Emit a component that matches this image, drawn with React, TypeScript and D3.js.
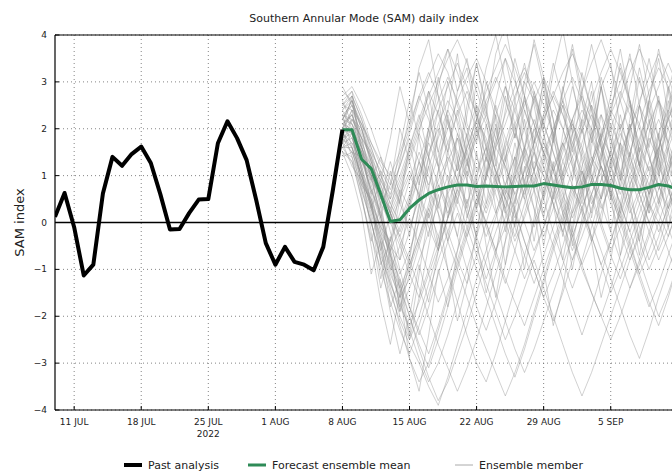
import * as d3 from "d3";

const title = "Southern Annular Mode (SAM) daily index";
const pastStart = Date.UTC(2022, 6, 9);
const forecastStart = Date.UTC(2022, 7, 8);

// past analysis, daily from 9 JUL
const pastValues = [
  0.12, 0.63, -0.1, -1.13, -0.9, 0.62, 1.4, 1.21, 1.46, 1.62, 1.27, 0.6, -0.15, -0.14, 0.2, 0.49,
  0.5, 1.69, 2.16, 1.8, 1.33, 0.48, -0.44, -0.9, -0.52, -0.84, -0.9, -1.02, -0.52, 0.69, 1.98,
];

// ensemble mean, daily from 8 AUG
const meanValues = [
  1.98, 1.98, 1.35, 1.15, 0.6, 0.02, 0.06, 0.3, 0.48, 0.62, 0.7, 0.76, 0.8, 0.8, 0.77, 0.78, 0.77,
  0.76, 0.77, 0.78, 0.78, 0.83, 0.8, 0.77, 0.74, 0.76, 0.81, 0.81, 0.79, 0.73, 0.7, 0.7, 0.75, 0.81,
  0.78, 0.7,
];

// ensemble members, daily from 8 AUG
const members = [
  [2.0, 2.3, 1.6, 0.9, 0.2, -0.5, -0.8, -0.2, 0.6, 1.4, 2.1, 2.6, 2.2, 1.5, 0.8, 0.3, 0.9, 1.7, 2.4, 3.0, 2.6, 1.9, 1.1, 0.4, -0.3, -0.9, -0.4, 0.5, 1.3, 2.0, 2.5, 2.1, 1.4, 0.7, 1.2, 1.8],
  [1.8, 1.6, 1.0, 0.3, -0.4, -1.1, -1.6, -1.2, -0.5, 0.2, 0.8, 0.4, -0.3, -1.0, -1.8, -2.3, -1.7, -0.9, 0.0, 0.7, 1.3, 1.0, 0.4, -0.2, 0.5, 1.2, 1.9, 2.3, 1.8, 1.1, 0.5, -0.1, -0.8, -0.3, 0.4, 1.0],
  [2.4, 2.7, 2.2, 1.6, 1.0, 0.6, 1.2, 1.9, 2.6, 3.1, 3.6, 3.2, 2.5, 1.8, 1.1, 1.6, 2.3, 2.9, 2.4, 1.6, 0.9, 0.2, 0.8, 1.5, 2.2, 2.8, 3.4, 3.9, 3.3, 2.6, 1.9, 1.2, 0.6, 1.1, 1.7, 2.3],
  [1.6, 1.3, 0.5, -0.3, -1.0, -1.7, -2.3, -2.8, -2.2, -1.5, -0.8, -0.2, 0.5, 1.1, 0.6, -0.1, -0.7, -1.3, -0.6, 0.2, 0.9, 1.5, 1.1, 0.5, -0.2, -0.9, -1.5, -2.0, -1.4, -0.7, 0.0, 0.6, 1.2, 0.8, 0.2, -0.4],
  [2.1, 2.0, 1.5, 1.1, 0.4, 0.0, 0.5, 1.0, 0.6, -0.1, -0.6, 0.1, 0.9, 1.6, 2.2, 1.8, 1.1, 0.5, 0.1, 0.7, 1.5, 2.2, 2.7, 2.3, 1.6, 1.0, 0.4, 0.9, 1.5, 1.0, 0.3, -0.4, -1.0, -0.5, 0.2, 0.8],
  [1.9, 2.2, 1.8, 1.0, 0.1, -0.7, -1.4, -2.0, -2.6, -3.1, -2.5, -1.8, -1.0, -0.3, 0.4, 1.0, 1.6, 1.2, 0.6, 0.0, -0.6, -0.1, 0.6, 1.3, 1.9, 2.4, 2.0, 1.4, 0.8, 0.2, -0.4, -1.1, -1.7, -2.2, -1.6, -0.9],
  [2.6, 2.8, 2.3, 1.7, 1.2, 0.8, 1.4, 2.0, 2.7, 2.2, 1.5, 0.9, 0.3, -0.3, 0.3, 1.0, 1.7, 2.3, 2.9, 3.3, 2.8, 2.1, 1.5, 0.8, 0.2, 0.7, 1.3, 1.9, 2.5, 3.0, 3.5, 3.0, 2.4, 1.8, 1.2, 0.7],
  [1.5, 1.4, 0.8, 0.0, -0.8, -1.5, -2.1, -2.6, -3.0, -3.5, -3.9, -3.3, -2.6, -1.9, -1.2, -0.6, 0.1, 0.7, 0.3, -0.4, -1.0, -1.6, -1.1, -0.5, 0.2, 0.9, 1.4, 1.0, 0.4, -0.2, -0.8, -0.3, 0.4, 1.0, 1.6, 2.1],
  [2.2, 2.5, 2.0, 1.3, 0.7, 0.2, -0.3, 0.3, 1.0, 1.7, 1.2, 0.6, 1.2, 1.9, 2.5, 2.1, 1.4, 0.8, 0.2, -0.4, -1.0, -1.6, -2.1, -1.5, -0.8, -0.1, 0.6, 1.2, 0.7, 0.1, 0.8, 1.5, 2.1, 2.6, 2.2, 1.6],
  [1.7, 1.8, 1.2, 0.5, -0.2, -0.6, -0.1, 0.5, 1.1, 1.8, 2.4, 2.9, 3.4, 2.9, 2.3, 1.6, 0.9, 0.3, 0.9, 1.6, 1.1, 0.5, -0.2, -0.8, -1.4, -0.8, -0.1, 0.6, 1.3, 1.9, 1.4, 0.8, 0.2, 0.7, 1.3, 1.9],
  [2.3, 2.1, 1.4, 0.7, 0.0, -0.8, -1.5, -1.0, -0.4, 0.3, -0.3, -1.0, -1.7, -2.4, -3.0, -3.4, -2.8, -2.1, -1.4, -0.7, 0.0, 0.6, 1.2, 1.7, 1.2, 0.6, 0.0, -0.6, -1.2, -1.8, -2.4, -2.9, -2.3, -1.6, -1.0, -0.4],
  [1.9, 1.7, 1.3, 0.9, 0.6, 0.3, 0.8, 1.4, 2.0, 2.5, 3.0, 3.5, 3.9, 3.4, 2.8, 2.2, 1.6, 2.1, 2.7, 3.2, 2.7, 2.1, 1.5, 0.9, 1.4, 2.0, 2.5, 2.0, 1.4, 0.9, 1.5, 2.1, 2.8, 3.3, 2.9, 2.3],
  [2.0, 1.9, 1.1, 0.4, -0.3, -1.0, -0.5, 0.1, -0.5, -1.1, -1.7, -1.2, -0.6, 0.1, 0.8, 1.4, 0.9, 0.3, -0.3, 0.4, 1.1, 1.8, 2.4, 2.0, 1.3, 0.7, 1.2, 1.8, 2.4, 2.0, 1.3, 0.6, 0.0, -0.6, -0.1, 0.5],
  [2.5, 2.4, 1.9, 1.3, 0.6, 0.0, -0.5, -1.1, -1.6, -1.0, -0.3, 0.4, 1.0, 1.5, 2.0, 2.6, 3.1, 2.6, 2.0, 1.3, 0.7, 0.1, -0.5, -1.2, -1.8, -2.4, -1.8, -1.1, -0.4, 0.3, 1.0, 1.6, 1.1, 0.5, -0.1, -0.7],
  [1.4, 1.5, 1.0, 0.4, -0.1, -0.4, 0.2, 0.9, 1.5, 1.0, 0.4, -0.2, -0.8, -1.3, -0.7, 0.0, 0.7, 1.3, 1.9, 1.4, 0.8, 1.4, 2.0, 2.6, 3.1, 2.6, 1.9, 1.2, 0.6, 0.0, 0.6, 1.2, 1.8, 1.3, 0.7, 0.1],
  [2.2, 2.6, 2.1, 1.4, 0.6, -0.2, -1.0, -1.8, -2.4, -1.8, -1.1, -0.4, 0.2, -0.4, -1.0, -1.6, -2.2, -2.8, -3.3, -2.7, -2.0, -1.3, -0.6, 0.0, 0.6, 1.1, 0.6, 0.0, -0.6, -0.1, 0.5, 1.1, 1.7, 2.2, 1.7, 1.1],
  [1.8, 2.0, 1.6, 1.2, 0.9, 0.5, 1.0, 1.6, 2.2, 2.8, 2.3, 1.7, 1.1, 1.6, 2.2, 2.8, 3.3, 3.8, 3.3, 2.7, 2.1, 1.5, 2.0, 2.6, 2.1, 1.5, 0.9, 0.3, 0.8, 1.4, 2.0, 2.6, 3.1, 3.6, 3.1, 2.5],
  [2.0, 1.8, 1.2, 0.4, -0.4, -1.2, -2.0, -2.5, -2.0, -1.3, -0.6, 0.1, 0.7, 0.2, -0.5, -1.2, -0.6, 0.1, 0.8, 1.4, 2.0, 1.5, 0.9, 0.3, -0.3, 0.3, 0.9, 1.5, 2.1, 1.6, 1.0, 0.4, -0.2, -0.8, -0.3, 0.3],
  [2.7, 2.9, 2.5, 2.0, 1.4, 0.9, 0.4, -0.1, 0.5, 1.2, 1.8, 2.4, 1.9, 1.3, 0.6, 0.0, -0.6, -0.1, 0.5, 1.1, 1.7, 2.2, 2.7, 3.2, 3.6, 3.1, 2.4, 1.7, 1.0, 0.4, -0.2, 0.4, 1.0, 1.6, 2.2, 2.8],
  [1.6, 1.7, 1.1, 0.3, -0.5, -1.3, -1.9, -1.4, -0.8, -0.2, 0.4, 1.0, 0.5, -0.1, -0.7, -1.3, -1.9, -2.5, -2.0, -1.4, -0.8, -1.4, -2.0, -2.6, -3.2, -3.7, -3.2, -2.6, -2.0, -1.4, -0.8, -0.2, 0.4, 0.0, -0.6, -1.2],
  [2.1, 2.3, 1.7, 1.2, 0.8, 0.3, -0.2, 0.4, 1.0, 1.5, 2.0, 1.5, 0.9, 0.4, 1.0, 1.6, 1.1, 0.5, 1.0, 1.6, 2.2, 1.7, 1.1, 1.6, 2.1, 1.6, 1.0, 0.5, 1.1, 1.7, 1.2, 0.6, 0.0, 0.5, 1.1, 1.6],
  [1.9, 2.0, 1.4, 0.6, -0.2, -1.0, -1.7, -2.3, -2.9, -3.4, -3.0, -2.4, -1.7, -1.0, -0.3, 0.4, 1.0, 1.6, 2.1, 2.6, 2.1, 1.5, 0.8, 0.2, -0.4, -1.0, -1.5, -2.0, -2.5, -2.0, -1.4, -0.8, -0.2, 0.4, 1.0, 0.5],
  [2.3, 2.2, 1.8, 1.5, 1.1, 0.7, 1.2, 1.8, 1.3, 0.8, 1.4, 2.0, 2.6, 3.1, 3.5, 3.0, 2.4, 1.8, 1.2, 0.6, 1.1, 1.7, 1.2, 0.6, 0.1, 0.6, 1.2, 1.8, 2.3, 2.8, 2.3, 1.7, 1.1, 1.6, 2.2, 2.7],
  [1.7, 1.5, 0.9, 0.2, -0.6, -1.4, -2.2, -2.9, -3.4, -3.0, -2.3, -1.6, -0.9, -0.2, 0.5, 1.1, 0.6, 0.0, -0.6, -1.2, -0.7, -0.1, 0.5, 1.1, 1.7, 2.2, 1.8, 1.2, 0.6, 0.0, -0.6, -1.2, -1.8, -1.3, -0.7, -0.1],
  [2.4, 2.6, 2.0, 1.4, 0.9, 0.4, 0.0, 0.6, 1.3, 2.0, 2.6, 3.1, 2.6, 2.0, 1.4, 0.8, 0.2, 0.8, 1.4, 0.9, 0.3, -0.3, 0.3, 1.0, 1.6, 2.1, 2.6, 3.2, 3.7, 3.2, 2.6, 2.0, 1.4, 0.8, 0.3, 0.8],
  [1.8, 1.9, 1.3, 0.7, 0.1, -0.5, -1.1, -0.6, 0.0, 0.7, 0.2, -0.4, -1.0, -1.6, -2.2, -2.7, -3.2, -3.7, -3.2, -2.6, -1.9, -1.2, -0.5, 0.1, 0.7, 0.2, -0.4, 0.2, 0.9, 1.5, 2.0, 2.5, 2.0, 1.4, 0.8, 0.2],
  [2.0, 2.4, 2.1, 1.6, 1.0, 0.4, 0.9, 1.5, 2.1, 2.7, 3.2, 3.7, 3.2, 2.6, 2.0, 1.4, 0.8, 0.2, -0.4, 0.1, 0.7, 1.3, 1.9, 2.5, 2.0, 1.4, 0.8, 1.4, 2.0, 2.6, 3.2, 3.7, 3.2, 2.6, 2.0, 1.5],
  [1.6, 1.6, 1.0, 0.5, -0.1, -0.7, -1.2, -1.8, -2.3, -2.8, -2.2, -1.5, -0.8, -0.1, 0.5, 0.0, -0.6, -1.2, -1.7, -2.2, -1.6, -1.0, -0.4, 0.2, 0.8, 0.3, -0.3, -0.9, -0.4, 0.2, 0.8, 1.3, 0.8, 0.2, -0.3, 0.3],
  [2.2, 2.1, 1.6, 1.0, 0.5, 0.1, 0.6, 1.1, 0.6, 0.1, 0.7, 1.3, 1.8, 1.3, 0.7, 0.2, 0.8, 1.4, 2.0, 2.5, 3.0, 2.5, 1.9, 1.3, 0.8, 0.3, -0.3, -0.9, -1.5, -1.0, -0.4, 0.2, 0.8, 1.4, 2.0, 2.5],
  [2.5, 2.7, 2.2, 1.5, 0.8, 0.2, -0.4, -0.9, -0.3, 0.4, 1.1, 1.7, 2.3, 2.8, 2.3, 1.7, 1.1, 0.5, -0.1, -0.7, -1.3, -0.7, -0.1, 0.5, 1.1, 1.7, 2.3, 1.8, 1.2, 0.6, 1.2, 1.8, 2.4, 2.9, 3.4, 2.9],
  [1.5, 1.3, 0.7, 0.0, -0.7, -1.3, -1.8, -2.2, -1.7, -1.1, -0.5, 0.1, 0.6, 1.2, 1.8, 2.3, 1.8, 1.2, 0.6, 1.1, 1.7, 2.3, 2.8, 2.3, 1.7, 1.1, 0.5, -0.1, -0.7, -1.2, -0.6, 0.0, 0.6, 1.2, 0.7, 0.1],
  [2.1, 1.9, 1.5, 1.0, 0.6, 0.2, -0.3, -0.8, -1.4, -2.0, -2.6, -3.1, -3.6, -3.1, -2.5, -1.8, -1.1, -0.4, 0.3, 0.9, 1.5, 1.0, 0.4, -0.2, -0.8, -0.3, 0.3, 0.9, 1.5, 2.1, 1.6, 1.0, 0.4, -0.2, 0.3, 0.9],
  [2.8, 2.6, 2.0, 1.3, 0.7, 0.2, 0.7, 1.3, 1.9, 1.4, 0.8, 0.2, 0.7, 1.3, 1.9, 2.5, 3.0, 3.5, 3.0, 2.4, 1.8, 1.2, 0.6, 0.0, -0.6, 0.0, 0.6, 1.2, 0.7, 0.1, -0.5, -1.1, -0.6, 0.0, 0.6, 1.2],
  [1.7, 2.0, 1.5, 0.8, 0.1, -0.6, -1.3, -2.0, -2.7, -3.3, -3.8, -3.4, -2.8, -2.2, -1.5, -0.8, -0.2, 0.4, 1.0, 0.5, -0.1, 0.5, 1.1, 1.7, 2.2, 2.7, 2.2, 1.6, 1.0, 0.4, -0.2, -0.8, -1.4, -2.0, -1.5, -0.9],
  [2.3, 2.5, 2.1, 1.7, 1.3, 1.0, 1.5, 2.1, 2.7, 3.2, 2.7, 2.1, 1.5, 0.9, 0.3, -0.3, 0.2, 0.8, 1.4, 2.0, 2.6, 3.1, 2.6, 2.0, 1.4, 0.8, 1.3, 1.9, 1.4, 0.8, 0.2, 0.7, 1.3, 1.9, 2.4, 2.0],
  [1.9, 1.6, 1.0, 0.3, -0.3, -0.9, -1.4, -0.9, -0.3, 0.3, 0.9, 1.4, 0.9, 0.3, -0.3, -0.9, -1.5, -2.1, -2.7, -3.2, -2.7, -2.1, -1.5, -0.9, -0.3, 0.3, 0.9, 0.4, -0.2, -0.8, -1.4, -0.9, -0.3, 0.3, 0.9, 1.4],
  [2.2, 1.9, 0.8, 0.5, -0.9, -0.4, 0.7, 0.3, 1.9, 2.8, 1.5, 2.4, 3.6, 2.1, 1.7, 3.0, 2.2, 0.6, 1.1, 2.7, 3.9, 3.1, 1.8, 2.5, 1.2, 0.4, 1.6, 2.9, 3.4, 2.0, 2.6, 1.3, 0.2, 1.5, 2.8, 3.6],
  [1.9, 2.4, 1.1, -0.2, -1.4, -0.6, -1.9, -0.8, 0.4, -0.3, 1.1, 2.2, 1.4, 0.1, 0.9, -0.5, -1.6, -0.4, 1.2, 2.4, 1.7, 3.1, 2.2, 0.8, 1.9, 3.2, 2.4, 1.1, -0.2, 0.9, 2.1, 1.2, 2.6, 3.5, 2.3, 1.4],
  [2.6, 2.1, 1.7, 0.3, 0.9, 1.8, 2.9, 2.1, 3.3, 3.9, 2.7, 1.2, 0.4, 1.7, 3.0, 2.3, 3.6, 4.2, 3.1, 2.0, 1.1, 2.3, 3.4, 2.6, 1.5, 2.8, 3.8, 2.9, 1.6, 0.7, 1.9, 3.1, 2.2, 1.0, 2.3, 3.3],
  [1.5, 1.0, 0.2, -1.1, -0.4, -1.8, -1.2, -2.4, -1.1, 0.2, -0.6, 0.8, 1.9, 1.2, 2.5, 1.6, 0.3, -0.9, 0.4, 1.5, 0.7, -0.5, 0.6, 1.9, 2.9, 2.1, 0.9, 1.8, 0.6, -0.7, 0.5, 1.7, 2.6, 1.4, 0.3, 1.2],
  [2.0, 2.7, 1.3, 1.0, 0.1, 1.1, 0.4, 1.6, 2.3, 1.4, 0.2, -1.0, -2.1, -1.3, -0.2, 1.0, 2.1, 1.3, 2.6, 3.4, 2.5, 1.4, 0.5, 1.7, 0.9, 2.2, 3.0, 1.8, 2.7, 3.7, 2.6, 1.5, 0.6, 1.8, 1.0, 2.1],
  [2.3, 1.6, 0.6, -0.5, -1.7, -2.6, -1.5, -2.9, -3.6, -2.4, -1.0, -1.8, -0.6, 0.5, -0.3, 1.0, 2.0, 1.1, -0.1, 1.2, 0.3, -1.0, -2.2, -1.4, -0.1, 1.1, 0.2, 1.4, 2.3, 1.5, 0.4, -0.7, 0.5, 1.6, 0.8, -0.3],
  [1.7, 2.2, 2.0, 1.2, 0.4, 0.8, 2.0, 1.3, 0.5, 1.8, 2.9, 3.7, 2.8, 3.5, 2.4, 1.3, 2.5, 1.6, 0.4, 1.6, 2.8, 2.0, 3.2, 4.1, 3.0, 1.9, 2.8, 1.6, 0.5, 1.7, 2.9, 3.8, 2.7, 1.8, 2.9, 2.0],
  [2.4, 2.0, 0.9, 0.4, -0.6, 0.2, -0.8, 0.5, 1.3, 0.6, -0.5, 0.7, 1.8, 0.9, -0.4, -1.5, -0.7, 0.6, 1.7, 0.8, 2.0, 3.0, 2.2, 1.0, -0.2, 0.8, -0.4, -1.6, -0.8, 0.4, 1.5, 0.6, 1.9, 2.7, 1.6, 0.5],
  [1.8, 1.5, 1.4, 0.7, 0.2, -0.9, -1.6, -0.7, 0.3, 1.4, 2.4, 1.5, 2.8, 3.3, 2.2, 0.9, 1.8, 2.9, 2.1, 0.8, -0.4, 0.7, 1.8, 1.0, 2.2, 1.3, 0.1, 1.3, 2.4, 3.3, 2.5, 1.2, 2.2, 1.1, -0.1, 0.9],
  [2.9, 2.5, 1.8, 0.9, 1.4, 0.5, 1.6, 2.6, 1.8, 0.7, 1.9, 3.0, 2.1, 1.0, 2.2, 3.3, 4.0, 3.0, 1.8, 2.7, 1.5, 0.6, 1.8, 2.9, 1.9, 0.8, 2.0, 3.1, 2.3, 3.4, 2.6, 1.5, 2.6, 3.7, 2.8, 1.7],
  [1.6, 1.9, 0.7, 0.0, -0.8, -1.9, -2.8, -2.0, -0.9, -1.7, -0.6, 0.6, -0.3, 0.9, 2.0, 1.1, 2.3, 1.4, 0.2, -1.0, 0.1, 1.2, 0.4, -0.8, 0.3, 1.5, 2.5, 1.6, 0.5, 1.7, 0.8, -0.4, 0.7, 1.9, 1.0, 2.1],
  [2.1, 2.3, 1.8, 1.4, 0.5, 1.3, 0.6, -0.3, 0.8, 2.0, 1.2, 0.1, 1.3, 2.5, 3.4, 2.4, 1.3, 0.2, 1.4, 0.5, 1.7, 2.8, 1.9, 0.7, -0.5, 0.6, 1.8, 2.9, 1.8, 0.9, 2.1, 1.2, 0.3, 1.5, 2.6, 1.7],
  [2.0, 1.4, 0.5, -0.4, 0.4, -0.7, -1.8, -1.1, 0.1, 1.2, 0.3, 1.5, 2.4, 1.4, 0.3, 1.4, 2.6, 3.5, 2.6, 1.5, 2.7, 1.9, 0.8, -0.3, 0.9, 2.0, 1.1, 0.0, 1.2, 2.3, 1.4, 2.5, 3.5, 2.5, 1.4, 0.5],
  [2.5, 2.8, 1.5, 0.6, 1.1, 0.2, 1.3, 2.3, 3.2, 2.4, 1.2, 2.3, 1.3, 0.3, 1.5, 0.4, 1.6, 2.7, 1.8, 3.0, 3.8, 2.9, 1.7, 2.8, 3.7, 2.6, 1.4, 0.5, 1.6, 2.7, 3.6, 2.5, 1.6, 2.6, 1.7, 2.8],
  [1.7, 1.2, 0.9, 0.1, -1.2, -0.3, -1.4, -2.5, -1.6, -0.5, 0.6, -0.4, 0.8, 1.9, 0.9, 2.1, 1.0, -0.2, 1.0, 2.2, 1.1, 0.1, 1.3, 0.2, -1.0, 0.1, 1.2, 2.3, 1.3, 0.2, 1.4, 2.5, 1.5, 0.4, 1.6, 0.6],
  [2.2, 2.6, 1.6, 1.1, 0.3, -0.6, 0.5, 1.7, 0.8, 2.0, 3.1, 2.2, 1.1, 2.3, 3.4, 2.5, 1.2, 2.4, 3.5, 2.7, 1.6, 0.5, 1.7, 2.8, 3.8, 2.8, 1.7, 2.9, 2.0, 1.0, 2.2, 3.3, 2.4, 1.2, 2.4, 3.5],
];

const yTicks = [-4, -3, -2, -1, 0, 1, 2, 3, 4];
const xTickDates = ["2022-07-11", "2022-07-18", "2022-07-25", "2022-08-01", "2022-08-08", "2022-08-15", "2022-08-22", "2022-08-29", "2022-09-05"];
const legendItems = [
  { label: "Past analysis", color: "#000", width: 4, x: 124 },
  { label: "Forecast ensemble mean", color: "#2e8b57", width: 3, x: 248 },
  { label: "Ensemble member", color: "#aaa", width: 1, x: 455 },
];

const DAY = 86400000;
const W = 672;
const H = 472;
const left = 55, top = 35, right = 673, bottom = 410;
const font = "DejaVu Sans, sans-serif";

export default function App() {
  const x = d3.scaleUtc().domain([pastStart, Date.UTC(2022, 8, 11, 12)]).range([left, right]);
  const y = d3.scaleLinear().domain([-4, 4]).range([bottom, top]);
  const line = d3.line<number>()
    .x((d, i) => x(forecastStart + i * DAY))
    .y(d => y(d));
  const pastLine = d3.line<number>()
    .x((d, i) => x(pastStart + i * DAY))
    .y(d => y(d));
  const fmt = d3.utcFormat("%-d %b");
  const ticks = xTickDates.map(s => new Date(s + "T00:00:00Z"));

  return (
    <svg width={W} height={H} style={{ position: "absolute", left: 0, top: 0, background: "#fff" }} fontFamily={font}>
      <defs>
        <clipPath id="plot">
          <rect x={left} y={top} width={right - left} height={bottom - top} />
        </clipPath>
      </defs>
      <text x={(left + right) / 2} y={22} textAnchor="middle" fontSize={11} fill="#222">{title}</text>

      {/* grid */}
      {yTicks.map(t => (
        <line key={"gy" + t} x1={left} x2={right} y1={y(t)} y2={y(t)} stroke="#666" strokeWidth={0.8} strokeDasharray="1,3" />
      ))}
      {ticks.map(t => (
        <line key={"gx" + t.getTime()} x1={x(t)} x2={x(t)} y1={top} y2={bottom} stroke="#666" strokeWidth={0.8} strokeDasharray="1,3" />
      ))}

      <g clipPath="url(#plot)">
        {members.map((m, i) => (
          <path key={i} d={line(m) ?? ""} fill="none" stroke="#8c8c8c" strokeOpacity={0.4} strokeWidth={1} />
        ))}
        <line x1={left} x2={right} y1={y(0)} y2={y(0)} stroke="#000" strokeWidth={1.5} />
        <path d={line(meanValues) ?? ""} fill="none" stroke="#2e8b57" strokeWidth={3} strokeLinejoin="round" />
        <path d={pastLine(pastValues) ?? ""} fill="none" stroke="#000" strokeWidth={4} strokeLinejoin="round" />
      </g>

      {/* spines */}
      <line x1={left} x2={left} y1={top} y2={bottom} stroke="#000" strokeWidth={1.2} />
      <line x1={left} x2={right} y1={top} y2={top} stroke="#000" strokeWidth={1.2} />
      <line x1={left} x2={right} y1={bottom} y2={bottom} stroke="#000" strokeWidth={1.2} />

      {yTicks.map(t => (
        <g key={"ty" + t}>
          <line x1={left} x2={left + 4} y1={y(t)} y2={y(t)} stroke="#000" />
          <text x={left - 8} y={y(t) + 3} textAnchor="end" fontSize={9} fill="#222">{t < 0 ? "\u2212" + Math.abs(t) : t}</text>
        </g>
      ))}
      {ticks.map(t => (
        <g key={"tx" + t.getTime()}>
          <line x1={x(t)} x2={x(t)} y1={bottom} y2={bottom - 4} stroke="#000" />
          <text x={x(t)} y={bottom + 15} textAnchor="middle" fontSize={9} fill="#222">{fmt(t).toUpperCase()}</text>
        </g>
      ))}
      <text x={x(ticks[2])} y={bottom + 27} textAnchor="middle" fontSize={9} fill="#222">2022</text>

      <text transform={`translate(24,${(top + bottom) / 2}) rotate(-90)`} textAnchor="middle" fontSize={13} fill="#222">SAM index</text>

      {legendItems.map(l => (
        <g key={l.label}>
          <line x1={l.x} x2={l.x + 18} y1={465} y2={465} stroke={l.color} strokeWidth={l.width} />
          <text x={l.x + 24} y={469} fontSize={11} fill="#222">{l.label}</text>
        </g>
      ))}
    </svg>
  );
}
